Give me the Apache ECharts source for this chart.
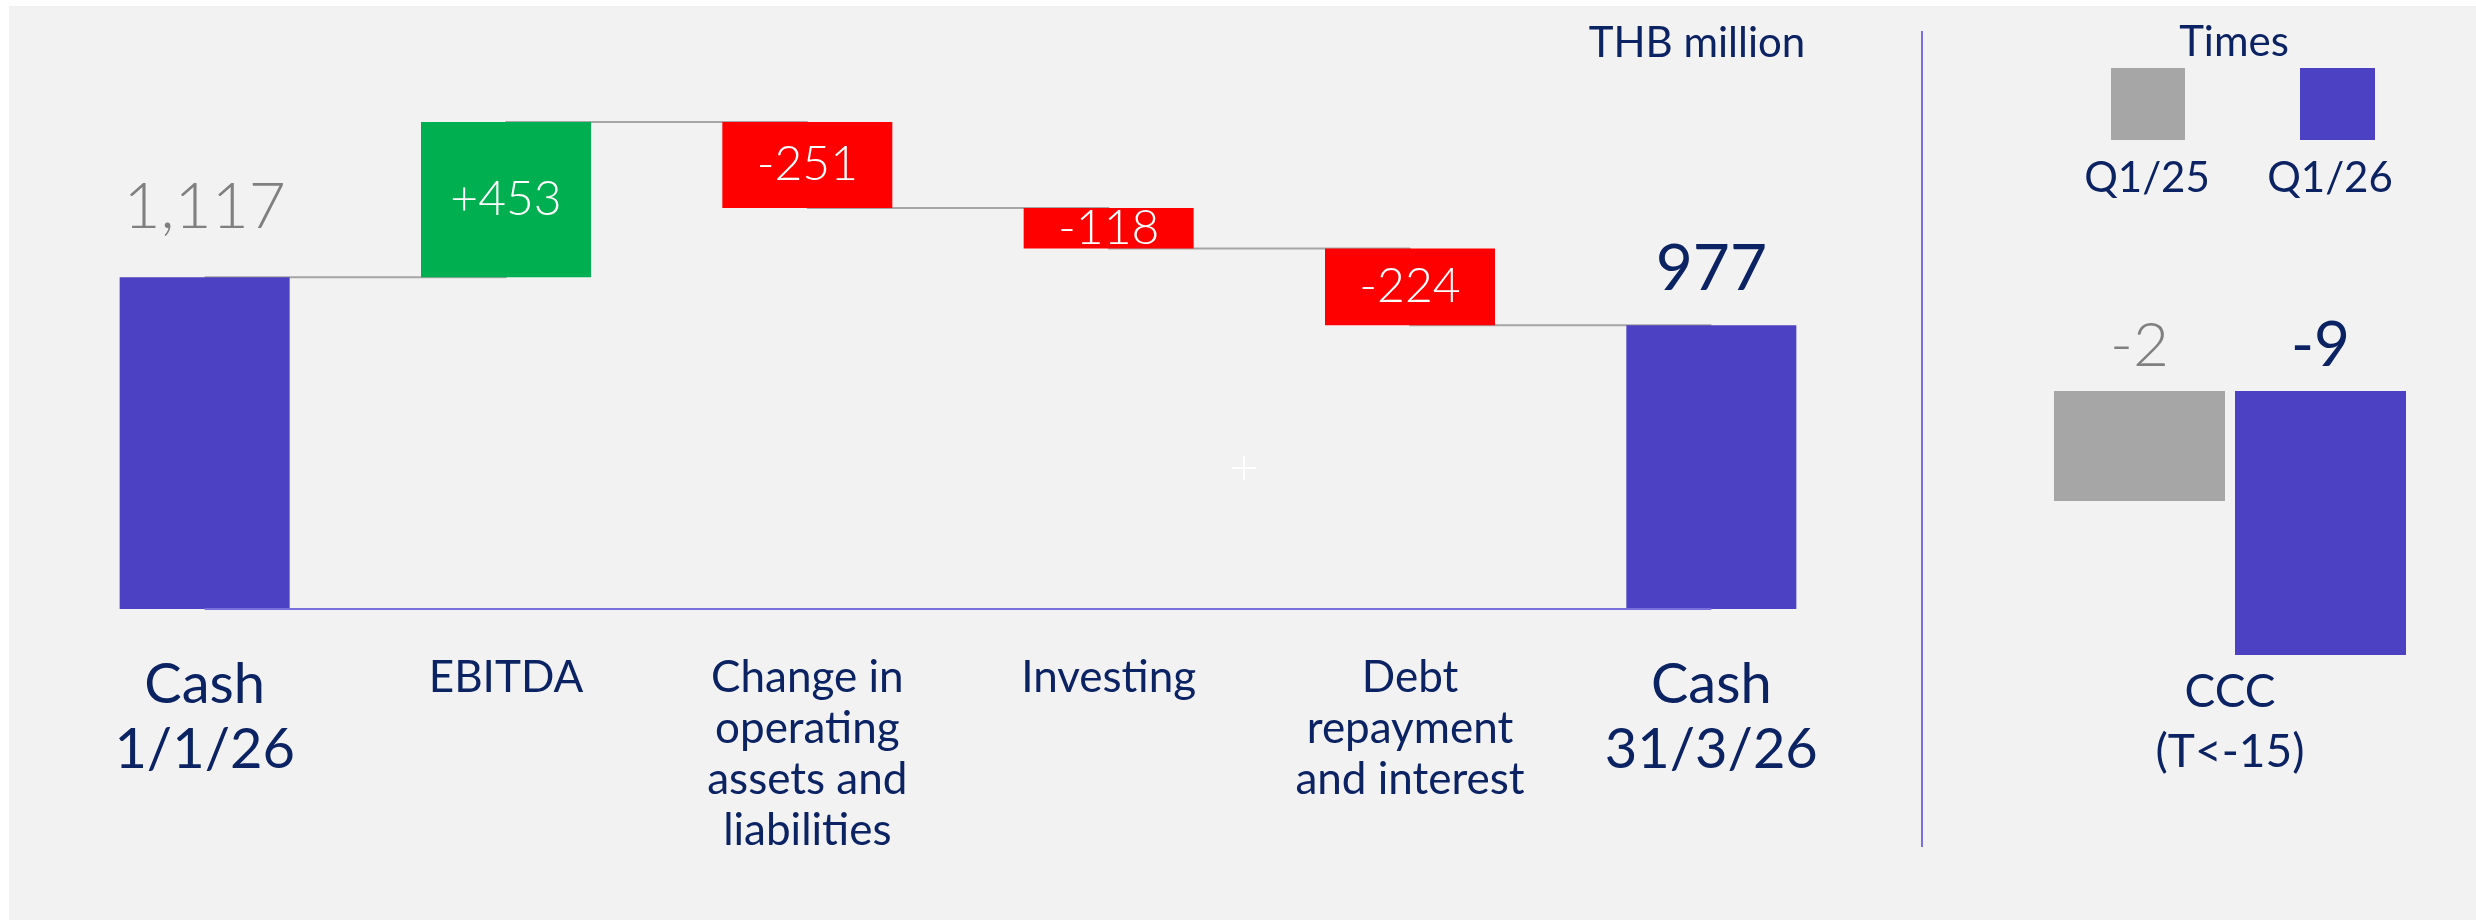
<!DOCTYPE html>
<html>
<head>
<meta charset="utf-8">
<title>Cash flow Q1/26</title>
<script src="https://cdn.jsdelivr.net/npm/echarts@6/dist/echarts.min.js"></script>
<style>
  html, body { margin: 0; padding: 0; background: #fff; }
  #myChart { width: 2476px; height: 920px; }
</style>
</head>
<body>
<div id="myChart"></div>
<script>
// waterfall, THB million
const categories = ['Cash\n1/1/26', 'EBITDA', 'Change in\noperating\nassets and\nliabilities', 'Investing', 'Debt\nrepayment\nand interest', 'Cash\n31/3/26'];
const cashOpen = 1117;
const changes = [453, -251, -118, -224];
const cashClose = 977;

// cash conversion cycle, times
const cccCategories = ['CCC\n(T<-15)'];
const periods = ['Q1/25', 'Q1/26'];
const cccQ125 = [-2];
const cccQ126 = [-9];

const FONT = 'Lato, "Open Sans", sans-serif';
const PURPLE = '#4B41C2';
const GREEN = '#00B050';
const RED = '#FF0000';
const GREY_BAR = '#A6A6A6';
const NAVY = '#0B2263';
const GREY_TEXT = '#808080';
const LINE_GREY = '#A6A6A6';
const DIVIDER = '#7A70DC';

const CCC_CROSS = 3;   // bars hang from where the category axis crosses
const CCC_BAR_W = 171;
const CCC_GAP = 10;

let n = categories.length;
// running cash level after each step
let levels = [cashOpen];
changes.forEach(c => levels.push(levels[levels.length - 1] + c));

let totals = [cashOpen].concat(changes.map(() => '-'), [cashClose]);
let base = ['-'], delta = ['-'];
changes.forEach((c, i) => {
    base.push(Math.min(levels[i], levels[i + 1]));
    delta.push(Math.abs(c));
});
base.push('-');
delta.push('-');
let steps = levels.map((v, i) => [i, v]).concat([[n - 1, cashClose]]);

function cccRender(side, color, labelColor, labelWeight) {
    return function (params, api) {
        let top = api.coord([api.value(0), CCC_CROSS]);
        let bottom = api.coord([api.value(0), api.value(1)]);
        let left = side < 0 ? top[0] - CCC_GAP / 2 - CCC_BAR_W : top[0] + CCC_GAP / 2;
        return {
            type: 'rect',
            shape: { x: left, y: top[1], width: CCC_BAR_W, height: bottom[1] - top[1] },
            style: { fill: color },
            textContent: {
                style: { text: String(api.value(1)), fill: labelColor, fontSize: 62, fontWeight: labelWeight, fontFamily: FONT }
            },
            textConfig: { position: 'top', distance: 14 }
        };
    };
}

let myEchart = echarts.init(document.getElementById('myChart'));
myEchart.setOption({
    animation: false,
    textStyle: { fontFamily: FONT },
    grid: [
        { left: 54, width: 1808, top: 43, height: 566 },
        { left: 2040, width: 380, top: 391, height: 264 }
    ],
    xAxis: [{
        type: 'category',
        gridIndex: 0,
        data: categories.map((c, i) => ({
            value: c,
            textStyle: (i === 0 || i === n - 1) ? { fontSize: 56, lineHeight: 65 } : {}
        })),
        axisLine: { show: false },
        axisTick: { show: false },
        axisLabel: { interval: 0, color: NAVY, fontSize: 44, lineHeight: 51, margin: 43, fontFamily: FONT }
    }, {
        type: 'category',
        gridIndex: 1,
        data: cccCategories,
        axisLine: { show: false },
        axisTick: { show: false },
        axisLabel: { interval: 0, color: NAVY, fontSize: 46, lineHeight: 60, margin: 7, fontFamily: FONT }
    }],
    yAxis: [
        { type: 'value', gridIndex: 0, min: 150, max: 1800, show: false },
        { type: 'value', gridIndex: 1, min: -9, max: 3, show: false }
    ],
    series: [
        {
            // connectors between the bars
            type: 'line',
            step: 'end',
            data: steps,
            symbol: 'none',
            z: 1,
            silent: true,
            lineStyle: { color: LINE_GREY, width: 2 },
            markLine: {
                silent: true,
                symbol: 'none',
                label: { show: false },
                lineStyle: { color: DIVIDER, width: 2, type: 'solid' },
                data: [[{ coord: [0, 150] }, { coord: [n - 1, 150] }]]
            }
        },
        {
            type: 'bar',
            stack: 'wf',
            data: base,
            barWidth: 170,
            barGap: '-100%',
            silent: true,
            itemStyle: { color: 'transparent' }
        },
        {
            type: 'bar',
            stack: 'wf',
            data: delta,
            barWidth: 170,
            barGap: '-100%',
            itemStyle: {
                color: p => changes[p.dataIndex - 1] > 0 ? GREEN : RED
            },
            label: {
                show: true,
                position: 'inside',
                color: '#fff',
                fontSize: 48,
                fontWeight: 300,
                fontFamily: FONT,
                formatter: p => {
                    let c = changes[p.dataIndex - 1];
                    return (c > 0 ? '+' : '') + c;
                }
            }
        },
        {
            type: 'bar',
            data: totals.map((v, i) => v === '-' ? '-' : {
                value: v,
                label: i === 0
                    ? { color: GREY_TEXT, distance: 38, fontWeight: 300 }
                    : { color: NAVY, distance: 24, fontWeight: 400 }
            }),
            barWidth: 170,
            barGap: '-100%',
            itemStyle: { color: PURPLE },
            label: {
                show: true,
                position: 'top',
                fontSize: 64,
                fontFamily: FONT,
                formatter: p => p.value.toLocaleString('en-US')
            }
        },
        {
            name: periods[0],
            type: 'custom',
            xAxisIndex: 1,
            yAxisIndex: 1,
            data: cccQ125.map((v, i) => [i, v]),
            renderItem: cccRender(-1, GREY_BAR, GREY_TEXT, 300)
        },
        {
            name: periods[1],
            type: 'custom',
            xAxisIndex: 1,
            yAxisIndex: 1,
            data: cccQ126.map((v, i) => [i, v]),
            renderItem: cccRender(1, PURPLE, NAVY, 400)
        }
    ],
    graphic: [
        { type: 'rect', z: -100, silent: true, shape: { x: 9, y: 6, width: 2467, height: 914 }, style: { fill: '#F2F2F2' } },
        { type: 'line', z: 5, silent: true, shape: { x1: 1922, y1: 31, x2: 1922, y2: 847 }, style: { stroke: DIVIDER, lineWidth: 2 } },
        { type: 'text', z: 5, x: 1697, y: 43, style: { text: 'THB million', fill: NAVY, fontSize: 42, fontFamily: FONT, align: 'center', verticalAlign: 'middle' } },
        { type: 'text', z: 5, x: 2234, y: 42, style: { text: 'Times', fill: NAVY, fontSize: 42, fontFamily: FONT, align: 'center', verticalAlign: 'middle' } },
        { type: 'rect', z: 5, shape: { x: 2111, y: 68, width: 74, height: 72 }, style: { fill: GREY_BAR } },
        { type: 'rect', z: 5, shape: { x: 2300, y: 68, width: 75, height: 72 }, style: { fill: PURPLE } },
        { type: 'text', z: 5, x: 2147, y: 178, style: { text: periods[0], fill: NAVY, fontSize: 42, fontFamily: FONT, align: 'center', verticalAlign: 'middle' } },
        { type: 'text', z: 5, x: 2330, y: 178, style: { text: periods[1], fill: NAVY, fontSize: 42, fontFamily: FONT, align: 'center', verticalAlign: 'middle' } },
        { type: 'line', z: 5, silent: true, shape: { x1: 1232, y1: 468, x2: 1256, y2: 468 }, style: { stroke: '#fff', lineWidth: 2 } },
        { type: 'line', z: 5, silent: true, shape: { x1: 1244, y1: 456, x2: 1244, y2: 480 }, style: { stroke: '#fff', lineWidth: 2 } }
    ]
});
window.addEventListener('resize', function () {
    myEchart.resize();
});
</script>
</body>
</html>
